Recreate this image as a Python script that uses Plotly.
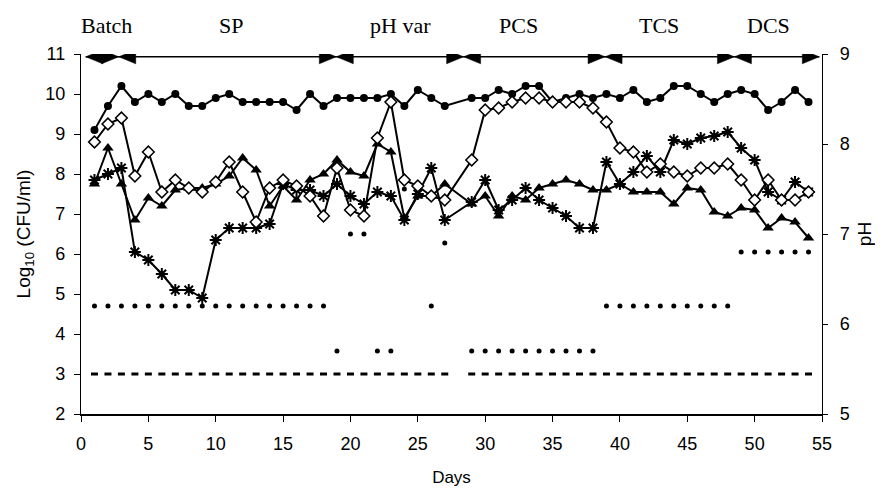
import plotly.graph_objects as go

# sampling days (no sample on day 28)
days = [1, 2, 3, 4, 5, 6, 7, 8, 9, 10, 11, 12, 13, 14, 15, 16, 17, 18, 19, 20,
        21, 22, 23, 24, 25, 26, 27, 29, 30, 31, 32, 33, 34, 35, 36, 37, 38, 39,
        40, 41, 42, 43, 44, 45, 46, 47, 48, 49, 50, 51, 52, 53, 54]

# log10 CFU/ml series
circles = [9.1, 9.7, 10.2, 9.8, 10.0, 9.8, 10.0, 9.7, 9.7, 9.9, 10.0, 9.8, 9.8,
           9.8, 9.8, 9.6, 10.0, 9.7, 9.9, 9.9, 9.9, 9.9, 10.0, 9.7, 10.1, 9.9,
           9.7, 9.9, 9.9, 10.1, 10.0, 10.2, 10.2, 9.8, 9.9, 10.0, 9.9, 10.0,
           9.9, 10.1, 9.8, 9.9, 10.2, 10.2, 10.0, 9.8, 10.0, 10.1, 10.0, 9.6,
           9.8, 10.1, 9.8]
diamonds = [8.8, 9.25, 9.4, 7.95, 8.55, 7.55, 7.85, 7.65, 7.55, 7.8, 8.3, 7.55,
            6.8, 7.65, 7.85, 7.7, 7.45, 6.95, 8.15, 7.1, 6.95, 8.9, 9.8, 7.85,
            7.7, 7.45, 7.35, 8.35, 9.6, 9.65, 9.8, 9.9, 9.9, 9.8, 9.8, 9.8,
            9.65, 9.3, 8.65, 8.55, 8.05, 8.25, 8.05, 7.95, 8.15, 8.15, 8.25,
            7.85, 7.35, 7.85, 7.35, 7.35, 7.55]
triangles = [7.75, 8.65, 7.75, 6.85, 7.4, 7.2, 7.6, 7.65, 7.65, 7.75, 7.95, 8.4,
             8.1, 7.2, 7.7, 7.35, 7.85, 8.0, 8.35, 8.05, 7.95, 8.75, 8.55, 6.9,
             7.45, 7.45, 7.75, 7.25, 7.45, 6.95, 7.45, 7.35, 7.65, 7.75, 7.85,
             7.75, 7.6, 7.6, 7.75, 7.55, 7.55, 7.55, 7.25, 7.65, 7.6, 7.05,
             6.95, 7.15, 7.1, 6.65, 6.9, 6.8, 6.4]
stars = [7.85, 8.0, 8.15, 6.05, 5.85, 5.5, 5.1, 5.1, 4.9, 6.35, 6.65, 6.65, 6.65,
         6.75, 7.75, 7.6, 7.6, 7.45, 7.75, 7.45, 7.25, 7.55, 7.45, 6.85, 7.5,
         8.15, 6.85, 7.3, 7.85, 7.1, 7.35, 7.65, 7.35, 7.15, 6.95, 6.65, 6.65,
         8.3, 7.75, 8.05, 8.45, 8.05, 8.85, 8.75, 8.9, 8.95, 9.05, 8.65, 8.35,
         7.55, 7.35, 7.8, 7.55]
detection_limit = 3.0

# pH (right axis)
ph_days = [1, 2, 3, 4, 5, 6, 7, 8, 9, 10, 11, 12, 13, 14, 15, 16, 17, 18, 19,
           20, 21, 22, 23, 24, 26, 27, 29, 30, 31, 32, 33, 34, 35, 36, 37, 38,
           39, 40, 41, 42, 43, 44, 45, 46, 47, 48, 49, 50, 51, 52, 53, 54]
ph_values = [6.2, 6.2, 6.2, 6.2, 6.2, 6.2, 6.2, 6.2, 6.2, 6.2, 6.2, 6.2, 6.2,
             6.2, 6.2, 6.2, 6.2, 6.2, 5.7, 7.0, 7.0, 5.7, 5.7, 7.5, 6.2, 6.9,
             5.7, 5.7, 5.7, 5.7, 5.7, 5.7, 5.7, 5.7, 5.7, 5.7, 6.2, 6.2, 6.2,
             6.2, 6.2, 6.2, 6.2, 6.2, 6.2, 6.2, 6.8, 6.8, 6.8, 6.8, 6.8, 6.8]

# experimental phases
phases = ["Batch", "SP", "pH var", "PCS", "TCS", "DCS"]
phase_edges = [0.35, 2.8, 18.95, 28.4, 38.9, 48.5, 54.8]
label_days = [1.9, 11.1, 23.7, 32.5, 42.9, 51.0]
arrow_level = 10.93

line_style = dict(color="black", width=2)
fig = go.Figure()

fig.add_trace(go.Scatter(
    x=days, y=[detection_limit] * len(days), mode="markers",
    marker=dict(symbol="line-ew-open", size=5, color="black",
                line=dict(color="black", width=3)),
))
fig.add_trace(go.Scatter(
    x=days, y=circles, mode="lines+markers", line=line_style,
    marker=dict(symbol="circle", size=8, color="black"),
))
fig.add_trace(go.Scatter(
    x=days, y=triangles, mode="lines+markers", line=line_style,
    marker=dict(symbol="triangle-up", size=10, color="black"),
))
fig.add_trace(go.Scatter(
    x=days, y=stars, mode="lines+markers", line=line_style,
    marker=dict(symbol="asterisk-open", size=10, color="black",
                line=dict(color="black", width=2)),
))
fig.add_trace(go.Scatter(
    x=days, y=diamonds, mode="lines+markers", line=line_style,
    marker=dict(symbol="diamond", size=9, color="white",
                line=dict(color="black", width=1.5)),
))
fig.add_trace(go.Scatter(
    x=ph_days, y=ph_values, mode="markers", yaxis="y2",
    marker=dict(symbol="circle", size=5, color="black"),
))

# double-headed phase arrows along the top of the plot
head = dict(type="path", xref="x", yref="y", xsizemode="pixel", ysizemode="pixel",
            fillcolor="black", line=dict(color="black", width=0.5))
for i, name in enumerate(phases):
    x0, x1 = phase_edges[i], phase_edges[i + 1]
    fig.add_shape(type="line", xref="x", yref="y", x0=x0, x1=x1,
                  y0=arrow_level, y1=arrow_level, line=dict(color="black", width=1.5))
    fig.add_shape(path="M0,0L17,7L17,-7Z", xanchor=x0, yanchor=arrow_level, **head)
    fig.add_shape(path="M0,0L-17,7L-17,-7Z", xanchor=x1, yanchor=arrow_level, **head)
    fig.add_annotation(
        x=label_days[i], y=1.08, xref="x", yref="paper", yanchor="middle",
        text=name, showarrow=False,
        font=dict(family="Liberation Serif", size=22, color="black"),
    )

axis_font = dict(family="Liberation Sans", size=18, color="black")

# the page body has an 8px margin, so the figure is 8px smaller than the window
fig.update_layout(
    width=875, height=488,
    margin=dict(l=73, r=56, t=46, b=80),
    paper_bgcolor="white", plot_bgcolor="white",
    showlegend=False,
    font=axis_font,
    xaxis=dict(
        range=[0, 55], tickvals=[0, 5, 10, 15, 20, 25, 30, 35, 40, 45, 50, 55],
        showgrid=False, zeroline=False, showline=True, linecolor="black", linewidth=1.5,
        ticks="outside", ticklen=6, tickcolor="black", ticklabelstandoff=7,
        title=dict(text="Days", font=dict(family="Liberation Sans", size=17), standoff=18),
    ),
    yaxis=dict(
        range=[2, 11], dtick=1,
        showgrid=False, zeroline=False, showline=True, linecolor="black", linewidth=1.2,
        ticks="outside", ticklen=6, tickcolor="black", ticklabelstandoff=5,
        title=dict(text="Log<sub>10</sub> (CFU/ml)",
                   font=dict(family="Liberation Sans", size=19), standoff=9),
    ),
    yaxis2=dict(
        range=[5, 9], dtick=1, overlaying="y", side="right", anchor="x",
        showgrid=False, zeroline=False, showline=True, linecolor="black", linewidth=1.2,
        ticks="outside", ticklen=5, tickcolor="black", ticklabelstandoff=8,
        title=dict(text="pH", font=dict(family="Liberation Sans", size=19), standoff=8),
    ),
    yaxis3=dict(
        range=[5, 9], dtick=1, overlaying="y", side="right", anchor="x",
        showgrid=False, zeroline=False, showline=False,
        ticks="inside", ticklen=5, tickcolor="black", showticklabels=False,
    ),
)

fig.write_html("out.html")
